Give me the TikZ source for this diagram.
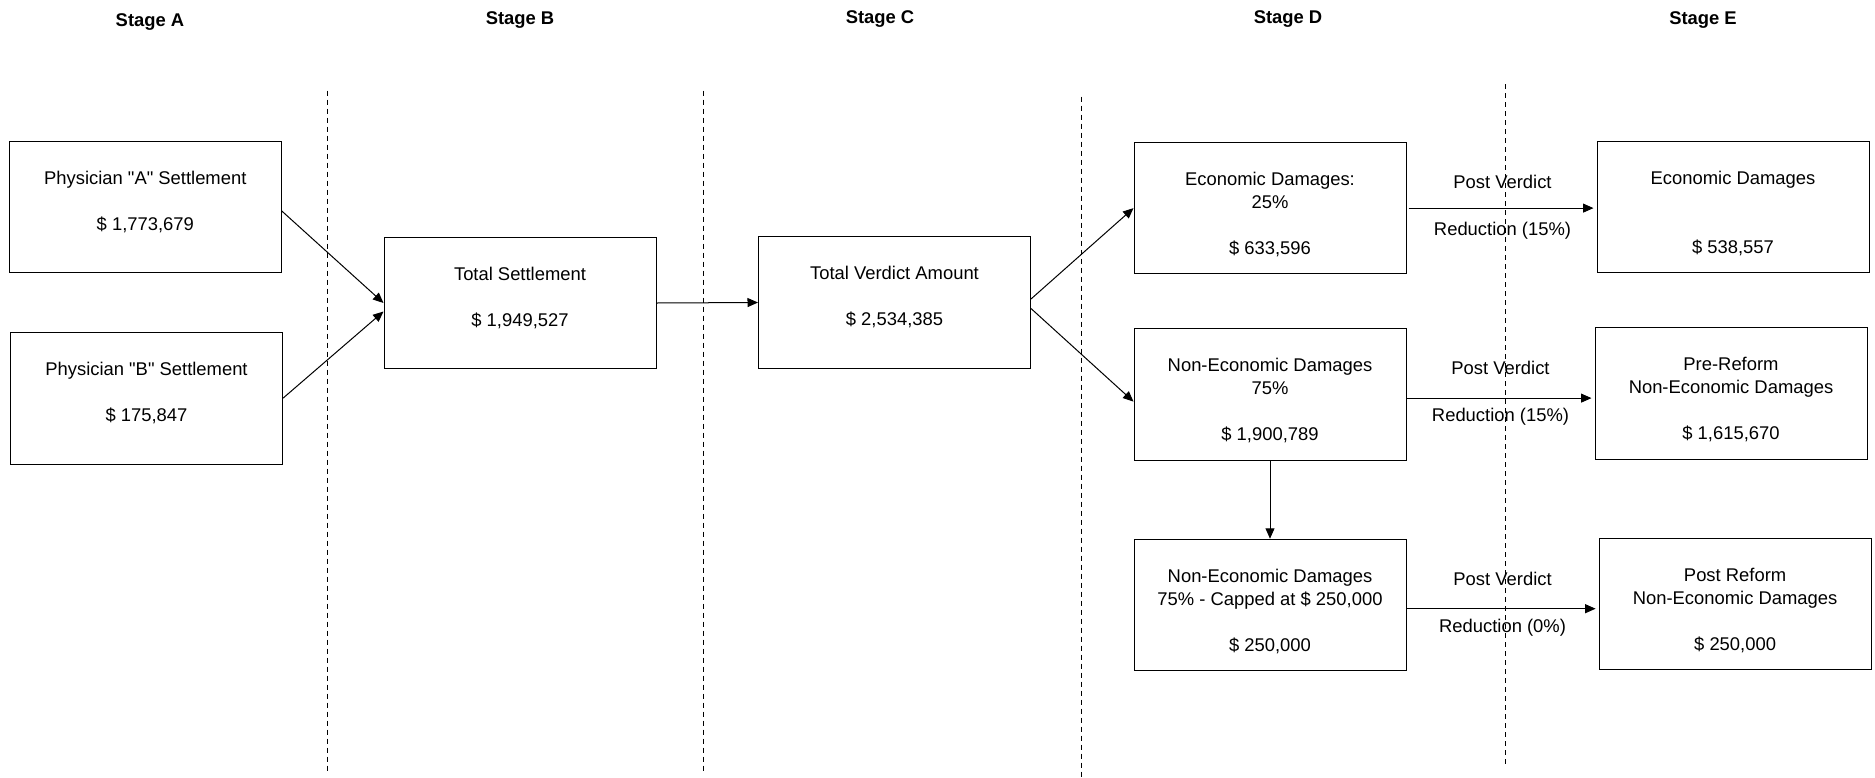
\documentclass[tikz,border=0pt]{standalone}
\usepackage{fontspec}
\setmainfont{Liberation Sans}[Ligatures=TeXOff]
\usetikzlibrary{arrows.meta}
\newcommand{\bxt}[1]{\parbox[c][131.7pt][t]{272pt}{\centering\vspace*{23pt}\rule{0pt}{20pt}#1\par}}
\begin{document}
\begin{tikzpicture}[x=1pt,y=1pt,
  font=\fontsize{18.4pt}{23pt}\selectfont,
  box/.style={draw, line width=1pt, inner sep=0pt},
  conn/.style={line width=1pt, -{Triangle[length=10.5pt,width=9pt]}},
  sepline/.style={line width=1pt, dash pattern=on 5pt off 4pt},
  stagelbl/.style={font=\fontsize{18.4pt}{23pt}\selectfont\bfseries, anchor=base},
  edgelbl/.style={anchor=base, midway}]
\path[use as bounding box] (0,0) rectangle (1875,-777);

% stage headings
\node[stagelbl] (sA) at (150,-26.5) {Stage A};
\node[stagelbl] (sB) at (520,-24.5) {Stage B};
\node[stagelbl] (sC) at (880,-23.5) {Stage C};
\node[stagelbl] (sD) at (1288,-23.5) {Stage D};
\node[stagelbl] (sE) at (1703,-24.5) {Stage E};

% boxes
\node[box] (a) at (145.3,-207) {\bxt{Physician "A" Settlement\\[23pt]\$ 1,773,679}};
\node[box] (b) at (146.5,-398.2) {\bxt{Physician "B" Settlement\\[23pt]\$ 175,847}};
\node[box] (ts) at (520,-303) {\bxt{Total Settlement\\[23pt]\$ 1,949,527}};
\node[box] (tv) at (894.5,-302.5) {\bxt{Total Verdict Amount\\[23pt]\$ 2,534,385}};
\node[box] (econ) at (1270,-208.1) {\bxt{Economic Damages:\\25\%\\[23pt]\$ 633,596}};
\node[box] (nonecon) at (1270,-394.6) {\bxt{Non-Economic Damages\\75\%\\[23pt]\$ 1,900,789}};
\node[box] (capped) at (1270,-605.1) {\bxt{Non-Economic Damages\\75\% - Capped at \$ 250,000\\[23pt]\$ 250,000}};
\node[box] (econE) at (1733,-206.9) {\bxt{Economic Damages\\[46pt]\$ 538,557}};
\node[box] (pre) at (1731,-393.4) {\bxt{Pre-Reform\\Non-Economic Damages\\[23pt]\$ 1,615,670}};
\node[box] (post) at (1735.1,-603.9) {\bxt{Post Reform\\Non-Economic Damages\\[23pt]\$ 250,000}};

% connectors
\draw[conn] ([yshift=-4pt]a.east) -- (ts.west);
\draw[conn] (b.east) -- ([yshift=-8.5pt]ts.west);
\draw[conn] (ts.east) -- (tv.west);
\draw[conn] ([yshift=3.5pt]tv.east) -- (econ.west);
\draw[conn] ([yshift=-6pt]tv.east) -- ([yshift=-7pt]nonecon.west);
\draw[conn] (nonecon.south) -- (capped.north);

\coordinate (r1s) at ([xshift=2pt]econ.east);
\coordinate (r2s) at ([yshift=-3.5pt]nonecon.east);
\coordinate (r3s) at ([yshift=-3.6pt]capped.east);
\draw[conn, shorten >=3pt] (r1s) -- (r1s -| econE.west)
  node[edgelbl, yshift=20pt] (pv1) {Post Verdict}
  node[edgelbl, yshift=-27.2pt] (rd1) {Reduction (15\%)};
\draw[conn, shorten >=3pt] (r2s) -- (r2s -| pre.west)
  node[edgelbl, yshift=23.5pt] (pv2) {Post Verdict}
  node[edgelbl, yshift=-23.7pt] (rd2) {Reduction (15\%)};
\draw[conn, shorten >=3pt] (r3s) -- (r3s -| post.west)
  node[edgelbl, yshift=23.5pt] (pv3) {Post Verdict}
  node[edgelbl, yshift=-23.7pt] (rd3) {Reduction (0\%)};

% stage separators
\draw[sepline] (327.8,-90.5) -- (327.8,-771.5);
\draw[sepline] (703.5,-90.5) -- (703.5,-771.5);
\draw[sepline] (1081,-96.5) -- (1081,-777);
\draw[sepline] (1505.6,-84) -- (1505.6,-765.5);
\end{tikzpicture}
\end{document}
